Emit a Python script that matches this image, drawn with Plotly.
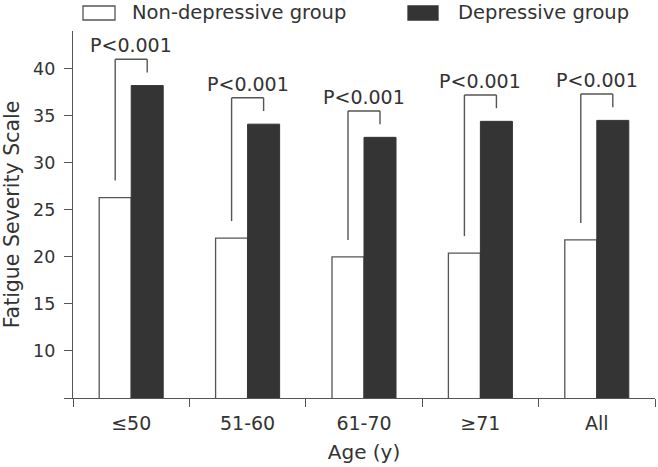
import plotly.graph_objects as go

# ---------------- data ----------------
categories = ["≤50", "51-60", "61-70", "≥71", "All"]
non_depressive = [26.3, 22.0, 20.0, 20.4, 21.8]
depressive = [38.2, 34.1, 32.7, 34.4, 34.5]
p_values = ["P<0.001", "P<0.001", "P<0.001", "P<0.001", "P<0.001"]
series_names = ["Non-depressive group", "Depressive group"]
y_ticks = [5, 10, 15, 20, 25, 30, 35, 40]
y_ticktext = ["", "10", "15", "20", "25", "30", "35", "40"]

# ---------------- style ----------------
W, H = 658, 467
ML, MR, MT, MB = 73, 3, 31, 69
FONT = "DejaVu Sans"
AX = "#555555"
TXT = "#333333"
DARK = "#343434"
BARGAP = 0.45
OFF = (1 - BARGAP) / 4  # half a bar width -> bar centre offset

xs = list(range(len(categories)))

fig = go.Figure()
fig.add_trace(go.Bar(x=xs, y=non_depressive, name=series_names[0],
                     marker=dict(color="white", line=dict(color=AX, width=1.3)),
                     showlegend=False))
fig.add_trace(go.Bar(x=xs, y=depressive, name=series_names[1],
                     marker=dict(color=DARK, line=dict(color=DARK, width=1)),
                     showlegend=False))

# significance brackets
shapes = []
annotations = []
for i, (a, b, p) in enumerate(zip(non_depressive, depressive, p_values)):
    top = b + 2.8
    xl, xr = i - OFF, i + OFF
    line = dict(color=AX, width=1.4)
    shapes.append(dict(type="line", xref="x", yref="y", x0=xl, x1=xl, y0=a + 1.8, y1=top, line=line))
    shapes.append(dict(type="line", xref="x", yref="y", x0=xl, x1=xr, y0=top, y1=top, line=line))
    shapes.append(dict(type="line", xref="x", yref="y", x0=xr, x1=xr, y0=top, y1=b + 1.4, line=line))
    annotations.append(dict(x=i, y=top, xref="x", yref="y", text=p, showarrow=False,
                            yanchor="bottom", yshift=1,
                            font=dict(family=FONT, size=19, color=TXT)))

# manual legend (pixel -> paper helpers)
PW = W - ML - MR
PH = H - MT - MB
def px(x):
    return (x - ML) / PW
def py(y):
    return (H - MB - y) / PH

legend_items = [
    (83, 115, 130, "white", AX),
    (408, 438, 456, DARK, DARK),
]
for (bx0, bx1, tx, fill, lc), name in zip(legend_items, series_names):
    shapes.append(dict(type="rect", xref="paper", yref="paper",
                       x0=px(bx0), x1=px(bx1), y0=py(20), y1=py(6),
                       fillcolor=fill, line=dict(color=lc, width=1.3)))
    annotations.append(dict(x=px(tx), y=py(13), xref="paper", yref="paper",
                            text=name, showarrow=False, xanchor="left", yanchor="middle",
                            font=dict(family=FONT, size=19.5, color=TXT)))

fig.update_layout(
    width=W, height=H,
    margin=dict(l=ML, r=MR, t=MT, b=MB, autoexpand=False),
    paper_bgcolor="white", plot_bgcolor="white",
    barmode="group", bargap=BARGAP, bargroupgap=0,
    shapes=shapes, annotations=annotations,
    font=dict(family=FONT, color=TXT),
    hovermode=False,
    xaxis=dict(
        range=[-0.5, len(categories) - 0.5],
        automargin=False,
        tickmode="array", tickvals=xs, ticktext=categories,
        ticks="outside", ticklen=8, tickcolor="rgba(0,0,0,0)",
        tickfont=dict(family=FONT, size=19, color=TXT),
        minor=dict(tickmode="array",
                   tickvals=[i - 0.5 for i in range(len(categories) + 1)],
                   ticks="outside", ticklen=8, tickcolor=AX, tickwidth=1.4, showgrid=False),
        showline=True, linecolor=AX, linewidth=1.4,
        showgrid=False, zeroline=False,
        title=dict(text="Age (y)", font=dict(family=FONT, size=20, color=TXT), standoff=11),
    ),
    yaxis=dict(
        range=[5, 44],
        automargin=False,
        tickmode="array", tickvals=y_ticks, ticktext=y_ticktext,
        ticks="outside", ticklen=8, tickcolor=AX, tickwidth=1.4,
        tickfont=dict(family=FONT, size=17.5, color=TXT),
        ticklabelstandoff=5,
        showline=True, linecolor=AX, linewidth=1.4,
        showgrid=False, zeroline=False,
        title=dict(text="Fatigue Severity Scale", font=dict(family=FONT, size=20.5, color=TXT), standoff=14),
    ),
)

# remove the default 8px page margin so the figure fills the window exactly
fig.write_html("out.html", config={"displayModeBar": False},
               post_script="document.body.style.margin='0';")
